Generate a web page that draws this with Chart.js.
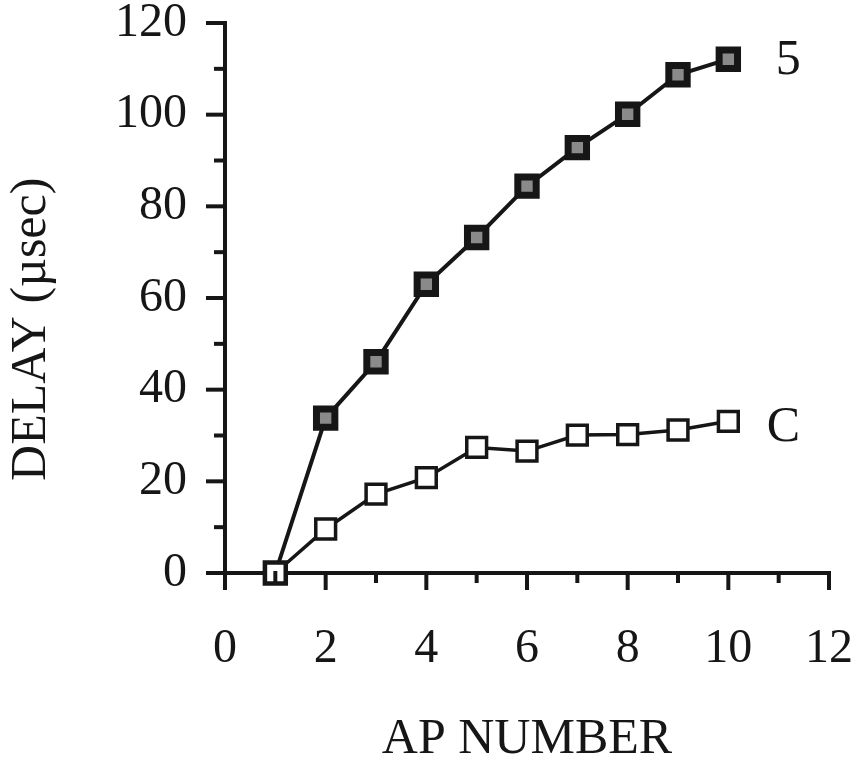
<!DOCTYPE html>
<html>
<head>
<meta charset="utf-8">
<script src="https://cdn.jsdelivr.net/npm/chart.js@4/dist/chart.umd.min.js"></script>
<style>
  html, body { margin: 0; padding: 0; background: #fff; }
  #wrap { width: 853px; height: 766px; }
</style>
</head>
<body>
<div id="wrap"><canvas id="delayChart"></canvas></div>
<script>
// values
const ap_number = [1, 2, 3, 4, 5, 6, 7, 8, 9, 10];
const delay_5 = [0, 33.8, 46.1, 63.0, 73.2, 84.4, 92.8, 100.1, 108.7, 112.1];
const delay_C = [0, 9.6, 17.2, 20.8, 27.4, 26.6, 30.1, 30.2, 31.2, 33.1];
const series_names = ['5', 'C'];
const x_ticks = [0, 2, 4, 6, 8, 10, 12];
const y_ticks = [0, 20, 40, 60, 80, 100, 120];

const ink = '#161616';
const serif = "'Liberation Serif', 'DejaVu Serif', serif";

function toPoints(ys) {
  return ap_number.map((x, i) => ({ x: x, y: ys[i] }));
}

// small tick marks on both axes (major + minor), placed with the scales
const axisTicks = {
  id: 'axisTicks',
  afterDraw(chart) {
    const ctx = chart.ctx;
    const xs = chart.scales.x, ys = chart.scales.y;
    const y0 = ys.getPixelForValue(0);
    const x0 = xs.getPixelForValue(0);
    ctx.save();
    ctx.strokeStyle = ink;
    ctx.lineWidth = 4;
    ctx.lineCap = 'butt';
    for (let v = xs.min; v <= xs.max; v++) {
      const px = xs.getPixelForValue(v);
      const len = v % 2 === 0 ? 17 : 10;
      ctx.beginPath();
      ctx.moveTo(px, y0 - 2);
      ctx.lineTo(px, y0 + len);
      ctx.stroke();
    }
    for (let v = ys.min; v <= ys.max; v += 10) {
      const py = ys.getPixelForValue(v);
      const len = v % 20 === 0 ? 19 : 11;
      ctx.beginPath();
      ctx.moveTo(x0 + 2, py);
      ctx.lineTo(x0 - len, py);
      ctx.stroke();
    }
    ctx.restore();
  }
};

// series names written at the end of each line
const endLabels = {
  id: 'endLabels',
  afterDatasetsDraw(chart) {
    const ctx = chart.ctx;
    const offsets = { '5': [60, 2], 'C': [55, 7] };
    ctx.save();
    ctx.fillStyle = ink;
    ctx.font = '50px ' + serif;
    ctx.textAlign = 'center';
    ctx.textBaseline = 'middle';
    chart.data.datasets.forEach((ds, i) => {
      const pts = chart.getDatasetMeta(i).data;
      const last = pts[pts.length - 1];
      const off = offsets[ds.label];
      ctx.fillText(ds.label, last.x + off[0], last.y + off[1]);
    });
    ctx.restore();
  }
};

new Chart(document.getElementById('delayChart'), {
  type: 'line',
  data: {
    datasets: [
      {
        label: series_names[1],
        data: toPoints(delay_C),
        borderColor: ink,
        borderWidth: 3.5,
        pointStyle: 'rect',
        pointRadius: 14,
        pointBorderWidth: 3.5,
        pointBackgroundColor: '#fff',
        pointBorderColor: ink,
        clip: false
      },
      {
        label: series_names[0],
        data: toPoints(delay_5),
        borderColor: ink,
        borderWidth: 4,
        pointStyle: 'rect',
        pointRadius: 13,
        pointBorderWidth: 7,
        pointBackgroundColor: '#8a8a8a',
        pointBorderColor: ink,
        clip: false
      }
    ]
  },
  options: {
    responsive: true,
    maintainAspectRatio: false,
    animation: false,
    layout: { padding: { left: 0, top: 23, right: 24, bottom: 0 } },
    plugins: {
      legend: { display: false },
      tooltip: { enabled: false }
    },
    scales: {
      x: {
        type: 'linear',
        min: 0,
        max: 12,
        afterFit: s => { s.height = 193; s.paddingLeft = 0; s.paddingRight = 24; },
        afterBuildTicks: s => { s.ticks = x_ticks.map(v => ({ value: v })); },
        grid: { display: false, drawTicks: false },
        border: { display: true, color: ink, width: 4 },
        ticks: {
          color: ink,
          padding: 57,
          font: { family: serif, size: 48, lineHeight: 0.8 }
        },
        title: {
          display: true,
          text: 'AP NUMBER',
          color: ink,
          font: { family: serif, size: 50, lineHeight: 1 },
          padding: { top: 0, bottom: 1 }
        }
      },
      y: {
        type: 'linear',
        min: 0,
        max: 120,
        afterFit: s => { s.width = 225; s.paddingTop = 20; s.paddingBottom = 0; },
        afterBuildTicks: s => { s.ticks = y_ticks.map(v => ({ value: v })); },
        grid: { display: false, drawTicks: false },
        border: { display: true, color: ink, width: 4 },
        ticks: {
          color: ink,
          padding: 38,
          font: { family: serif, size: 48, lineHeight: 0.8 }
        },
        title: {
          display: true,
          text: 'DELAY (µsec)     ',
          color: ink,
          font: { family: serif, size: 50, lineHeight: 1 },
          padding: { top: 7, bottom: 0 }
        }
      }
    }
  },
  plugins: [axisTicks, endLabels]
});
</script>
</body>
</html>
